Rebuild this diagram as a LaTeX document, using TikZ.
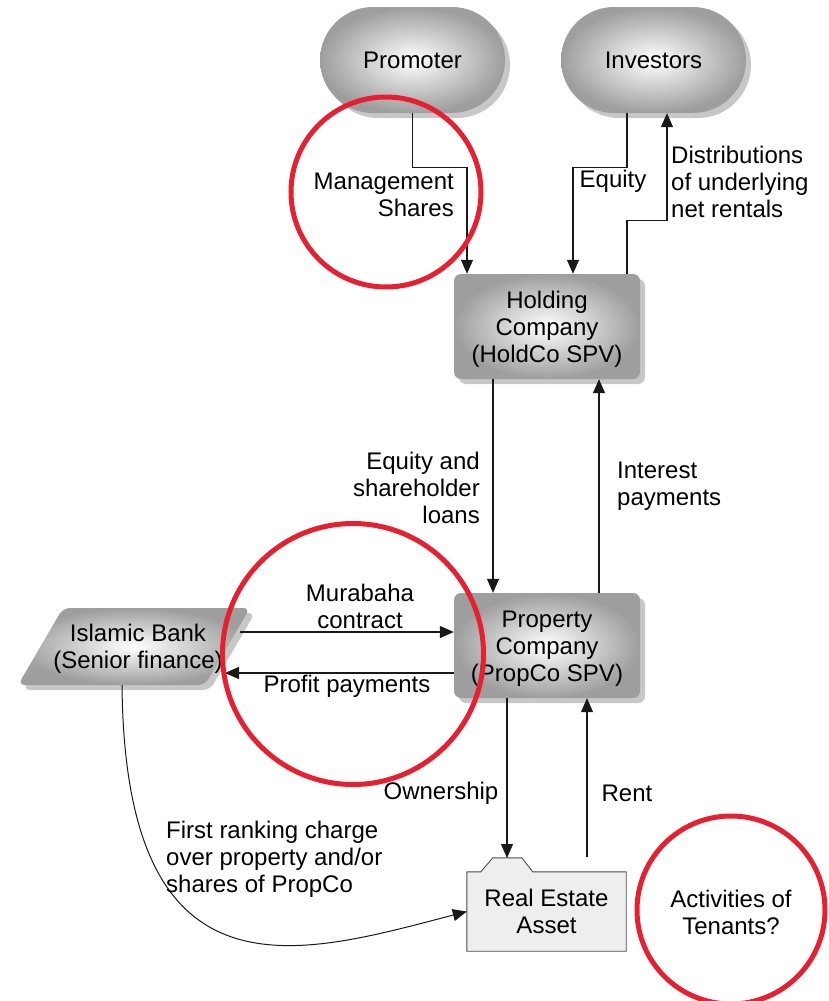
\documentclass[tikz,border=0pt]{standalone}
\usepackage{fontspec}
\setmainfont{Liberation Sans}
\usetikzlibrary{arrows.meta,shadows,shapes.misc}
\definecolor{boxgray}{RGB}{158,158,158}
\definecolor{assetfill}{RGB}{238,238,238}
\definecolor{markred}{RGB}{230,32,48}
\begin{document}
\begin{tikzpicture}[x=1pt,y=-1pt,
  every node/.style={font=\fontsize{24}{27}\selectfont, inner sep=0pt},
  softshadow/.style={drop shadow={shadow xshift=5pt, shadow yshift=-5pt, opacity=0.22, fill=black}},
  entity/.style={inner color=white, outer color=boxgray, softshadow},
  party/.style={entity, rounded rectangle, minimum width=185pt, minimum height=106pt},
  company/.style={entity, rectangle, rounded corners=7pt, minimum width=186pt, minimum height=105pt},
  conn/.style={draw=black!90, line width=1.2pt, line join=miter, -{Triangle[length=14pt,width=12pt]}},
  lbl/.style={inner sep=0pt},
  highlight/.style={circle, draw=markred, line width=5pt},
]
\useasboundingbox (0,0) rectangle (829,1001);

% parties at the top
\node[party] (prom) at (412.5,60) {Promoter};
\node[party] (inv) at (653.5,60) {Investors};

% special purpose vehicles (box, then its caption set a little low)
\node[company] (hold) at (547,326.5) {};
\node[align=center] (holdtext) at ([yshift=-3pt]hold.center) {Holding\\Company\\(HoldCo SPV)};
\node[company] (prop) at (547,645.5) {};
\node[align=center] (proptext) at ([yshift=-3.5pt]prop.center) {Property\\Company\\(PropCo SPV)};

% senior finance provider (parallelogram)
\shade[entity, rounded corners=7pt] (18,685) -- (63,608) -- (250,608) -- (205,685) -- cycle;
\node[align=center] (bank) at (138,648.5) {Islamic Bank\\(Senior finance)};
\coordinate (bankout) at (240,632);
\coordinate (bankin) at (225,673);
\coordinate (bankfoot) at (122,685);

% the real estate asset (folder with a tab)
\node[minimum width=159pt, minimum height=79pt, align=center] (rea) at (546.5,911.5) {};
\draw[draw=black!70, fill=assetfill, line width=0.9pt]
  (rea.north west) -- ++(14,0) -- ++(12,-14) -- ++(29,0) -- ++(11,14)
  -- (rea.north east) -- (rea.south east) -- (rea.south west) -- cycle;
\node[align=center] (reatext) at (rea.center) {Real Estate\\Asset};
\coordinate (reatab) at (507,858);
\coordinate (rentfoot) at (587,857);

% flows between the parties
\draw[conn] (prom.south) -- ++(0,54) -| ([xshift=-80pt]hold.north);
\draw[conn] ([xshift=-26.5pt]inv.south) -- ++(0,54) -| ([xshift=26pt]hold.north);
\draw[conn] ([xshift=80pt]hold.north) -- ++(0,-53) -| ([xshift=13.5pt]inv.south);
\draw[conn] ([xshift=-54pt]hold.south) -- ([xshift=-54pt]prop.north);
\draw[conn] ([xshift=52pt]prop.north) -- ([xshift=52pt]hold.south);
\draw[conn] (bankout) -- (bankout -| prop.west);
\draw[conn] (bankin -| prop.west) -- (bankin);
\draw[conn] ([xshift=-40pt]prop.south) -- (reatab);
\draw[conn] (rentfoot) -- (rentfoot |- prop.south);
\draw[conn, line width=1pt] (bankfoot) .. controls (125,1010) and (300,955) .. (rea.west);

% flow labels
\node[lbl, anchor=east, align=right] (lmgmt) at (454,194.5) {Management\\Shares};
\node[lbl] (lequity) at (613,181) {Equity};
\node[lbl, anchor=west, align=left] (ldist) at (671,181.5) {Distributions\\of underlying\\net rentals};
\node[lbl, anchor=east, align=right] (lloans) at (480,487.5) {Equity and\\shareholder\\loans};
\node[lbl, anchor=west, align=left] (linterest) at (617,486.5) {Interest\\payments};
\node[lbl, align=center] (lmurabaha) at (360,606.5) {Murabaha\\contract};
\node[lbl] (lprofit) at (347,686) {Profit payments};
\node[lbl] (lown) at (441,793) {Ownership};
\node[lbl] (lrent) at (627,793) {Rent};
\node[lbl, anchor=west, align=left] (lcharge) at (166,859) {First ranking charge\\over property and/or\\shares of PropCo};
\node[lbl, align=center] (ltenants) at (731,912.5) {Activities of\\Tenants?};

% highlighted areas
\node[highlight, minimum size=190pt] (m1) at (386,192) {};
\node[highlight, minimum size=261pt] (m2) at (353,654) {};
\node[highlight, minimum size=188pt] (m3) at (731,910) {};
\end{tikzpicture}
\end{document}
